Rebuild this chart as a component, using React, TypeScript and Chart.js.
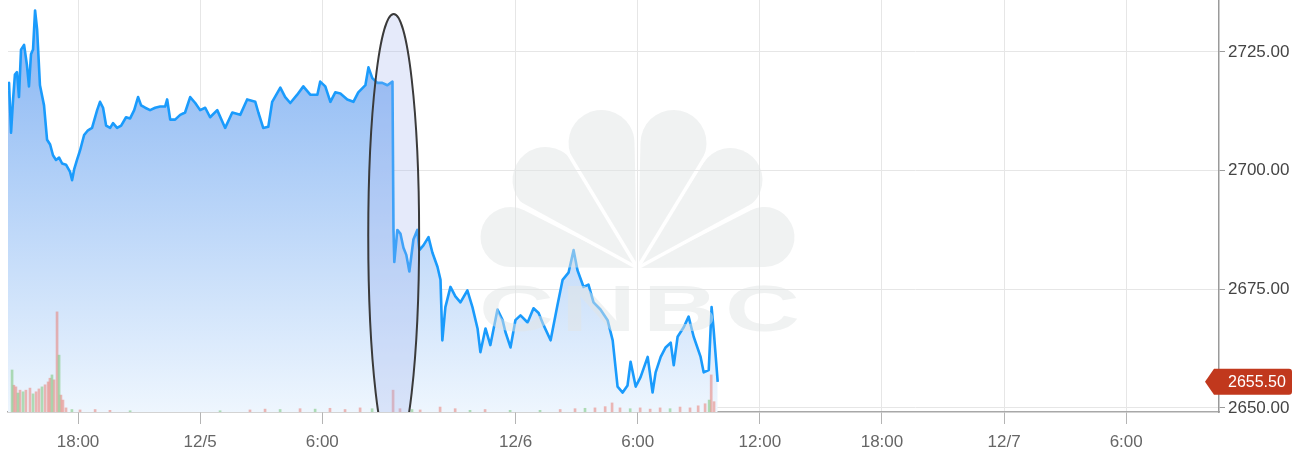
import React, { useEffect, useRef } from "react";
import { Chart, registerables } from "chart.js";

Chart.register(...registerables);

// E-mini S&P futures, trading-session hours (market closed 9:30–18:00 on 12/5)
const SESSION_HOURS = [
  0.0, 0.05, 0.15, 0.25, 0.34, 0.44, 0.54, 0.64, 0.79, 0.93, 1.03, 1.13, 1.23, 1.33, 1.43, 1.57,
  1.77, 1.92, 2.07, 2.21, 2.36, 2.51, 2.66, 2.85, 3.05, 3.15, 3.25, 3.39, 3.54, 3.74, 3.93, 4.13,
  4.38, 4.52, 4.67, 4.82, 5.02, 5.16, 5.36, 5.56, 5.8, 6.0, 6.2, 6.39, 6.54, 6.74, 6.98, 7.23,
  7.48, 7.72, 7.82, 7.97, 8.21, 8.46, 8.7, 8.95, 9.2, 9.44, 9.69, 9.93, 10.28, 10.67, 11.02, 11.41,
  11.75, 12.15, 12.3, 12.54, 12.79, 12.98, 13.38, 13.62, 13.87, 14.21, 14.51, 14.85, 15.2, 15.34,
  15.59, 15.84, 16.08, 16.33, 16.67, 16.97, 17.21, 17.56, 17.71, 17.9, 18.15, 18.39, 18.64, 18.89,
  18.94, 18.98, 19.13, 19.28, 19.43, 19.57, 19.72, 19.92, 20.11, 20.21, 20.41, 20.66, 20.85, 21.1,
  21.25, 21.34, 21.49, 21.74, 21.98, 22.23, 22.57, 22.82, 23.07, 23.21, 23.46, 23.7, 24.05, 24.3,
  24.44, 24.69, 24.93, 25.18, 25.53, 25.82, 26.07, 26.31, 26.66, 27.0, 27.25, 27.54, 27.79, 27.98,
  28.28, 28.52, 28.77, 29.11, 29.46, 29.71, 29.95, 30.2, 30.44, 30.59, 30.84, 31.08, 31.43, 31.67,
  31.82, 32.07, 32.31, 32.56, 32.71, 32.9, 33.2, 33.44, 33.69, 34.03, 34.18, 34.43, 34.57, 34.67,
  34.87,
];

const PRICES = [
  2717.0, 2718.5, 2708.0, 2715.0, 2720.25, 2720.75, 2715.5, 2725.5, 2726.5, 2722.25, 2717.75, 2724.5,
  2725.5, 2733.75, 2729.75, 2718.0, 2713.75, 2706.5, 2705.5, 2703.25, 2702.25, 2702.75, 2701.5,
  2701.25, 2699.75, 2698.0, 2700.25, 2702.25, 2704.25, 2707.5, 2708.5, 2709.0, 2712.75, 2714.5,
  2713.25, 2709.5, 2709.0, 2710.0, 2709.0, 2709.5, 2711.25, 2711.0, 2712.75, 2715.5, 2713.75,
  2713.25, 2712.75, 2713.25, 2713.5, 2713.5, 2715.0, 2710.75, 2710.75, 2711.75, 2712.25, 2715.5,
  2714.25, 2712.75, 2713.25, 2711.25, 2712.75, 2709.0, 2712.25, 2711.75, 2715.0, 2714.5, 2712.25,
  2709.0, 2709.25, 2714.5, 2717.5, 2715.5, 2714.25, 2716.0, 2717.75, 2716.0, 2716.0, 2718.75,
  2717.75, 2714.5, 2716.5, 2716.25, 2715.0, 2714.5, 2716.5, 2718.0, 2721.75, 2719.5, 2718.5, 2718.5,
  2718.0, 2718.75, 2687.5, 2680.75, 2687.5, 2686.75, 2683.75, 2682.25, 2678.75, 2685.5, 2687.5,
  2683.25, 2684.25, 2686.0, 2682.75, 2679.75, 2677.0, 2664.25, 2671.25, 2675.5, 2673.5, 2672.25,
  2674.75, 2671.25, 2666.75, 2661.75, 2666.75, 2663.25, 2670.75, 2668.5, 2666.0, 2662.75, 2668.5,
  2669.5, 2668.0, 2671.0, 2670.0, 2667.5, 2664.25, 2671.75, 2677.0, 2678.5, 2683.25, 2679.0, 2675.5,
  2676.0, 2672.25, 2670.75, 2668.5, 2664.25, 2654.5, 2653.25, 2654.75, 2659.75, 2654.5, 2656.5,
  2660.75, 2653.25, 2657.5, 2660.75, 2662.75, 2663.75, 2659.0, 2665.0, 2667.0, 2669.25, 2665.0,
  2660.75, 2657.5, 2658.0, 2671.25, 2666.5, 2655.5,
];

// Volume bars (thousand contracts); UP = closed higher than it opened
const VOLUME_HOURS = [
  0.2, 0.29, 0.39, 0.49, 0.59, 0.74, 0.88, 1.08, 1.23, 1.38, 1.52, 1.67, 1.82, 1.97, 2.06, 2.16,
  2.26, 2.41, 2.51, 2.6, 2.7, 2.85, 3.14, 3.54, 4.28, 5.01, 6.0, 10.42, 11.89, 12.63, 13.37, 14.35,
  15.09, 15.82, 16.56, 17.3, 17.89, 18.92, 19.26, 19.85, 20.25, 21.23, 21.97, 22.7, 23.44, 24.67,
  26.14, 27.13, 27.86, 28.35, 28.84, 29.34, 29.68, 30.07, 30.57, 31.06, 31.55, 32.04, 32.53, 33.02,
  33.51, 33.91, 34.25, 34.45, 34.55, 34.69,
];
const VOLUME_VALUES = [
  10.2, 6.5, 6.1, 4.6, 5.3, 4.9, 5.3, 5.8, 4.4, 4.9, 5.6, 6.1, 6.6, 7.3, 8.2, 9.0, 7.8, 24.3, 13.8,
  4.1, 2.9, 1.0, 0.6, 0.5, 0.6, 0.4, 0.3, 0.3, 0.5, 0.7, 0.6, 0.8, 0.7, 0.9, 0.6, 1.0, 0.8, 5.3,
  0.8, 0.6, 0.5, 1.2, 0.8, 0.4, 0.6, 0.4, 0.4, 0.6, 0.8, 0.9, 1.0, 1.3, 2.2, 1.0, 0.8, 1.0, 0.7,
  1.0, 0.8, 1.2, 1.0, 1.5, 2.0, 2.9, 9.0, 2.5,
];
const VOLUME_UP = [
  true, false, false, true, false, true, false, false, true, false, false, true, false, false, false,
  true, false, false, true, false, false, false, true, false, false, false, true, true, false, false,
  true, false, true, false, false, false, true, false, false, true, false, false, false, true, false,
  true, true, false, false, true, false, false, false, false, true, false, false, false, true, false,
  false, false, false, true, false, false,
];

const X_TICK_HOURS = [3.44, 9.44, 15.44, 24.94, 30.94, 36.94, 42.94, 48.94, 54.94];
const X_TICK_LABELS = ["18:00", "12/5", "6:00", "12/6", "6:00", "12:00", "18:00", "12/7", "6:00"];
const Y_TICKS = [2650, 2675, 2700, 2725];

const X_MAX_HOURS = 59.5;
const Y_MIN = 2649.15;
const Y_MAX = 2735.95;

// Highlight around the reopening gap
const HIGHLIGHT = { fromHour: 17.7, toHour: 20.2, topPrice: 2733.0, bottomPrice: 2639.5 };

// Peacock feathers: offset of each round end from the pivot, and its radius
const FEATHERS: [number, number, number][] = [
  [-127, -31, 30],
  [-92, -88, 33],
  [-36, -125, 33],
  [36, -125, 33],
  [93, -88, 32],
  [127, -31, 30],
];

const FONT = "'Liberation Sans', Arial, sans-serif";

function featherPath(c: CanvasRenderingContext2D, px: number, py: number, cx: number, cy: number, r: number) {
  const d = Math.hypot(px - cx, py - cy);
  const beta = Math.atan2(py - cy, px - cx);
  const phi = Math.acos(r / d);
  c.beginPath();
  c.moveTo(px, py);
  c.lineTo(cx + r * Math.cos(beta + phi), cy + r * Math.sin(beta + phi));
  c.arc(cx, cy, r, beta + phi, beta - phi + Math.PI * 2, false);
  c.closePath();
  c.fill();
}

const watermarkPlugin = {
  id: "watermark",
  afterDatasetsDraw(chart: any) {
    const { ctx, width, height } = chart;
    const off = document.createElement("canvas");
    off.width = width;
    off.height = height;
    const o = off.getContext("2d")!;
    const px = width / 2 - 13;
    const py = 268;
    o.fillStyle = "#e2e5e5";
    FEATHERS.forEach(([dx, dy, r]) => featherPath(o, px, py, px + dx, py + dy, r));
    // thin white gaps between the feathers
    o.globalCompositeOperation = "destination-out";
    o.lineWidth = 3.5;
    for (let i = 0; i < FEATHERS.length - 1; i++) {
      const a1 = Math.atan2(FEATHERS[i][1], FEATHERS[i][0]);
      const a2 = Math.atan2(FEATHERS[i + 1][1], FEATHERS[i + 1][0]);
      const a = (a1 + a2) / 2;
      o.beginPath();
      o.moveTo(px, py);
      o.lineTo(px + 200 * Math.cos(a), py + 200 * Math.sin(a));
      o.stroke();
    }
    o.globalCompositeOperation = "source-over";
    o.font = `bold 64px ${FONT}`;
    o.textAlign = "center";
    o.textBaseline = "alphabetic";
    const letters = ["C", "N", "B", "C"];
    letters.forEach((ch, i) => {
      o.save();
      o.translate(px - 121 + i * 82, 331);
      o.scale(1.62, 1);
      o.fillText(ch, 0, 0);
      o.restore();
    });
    ctx.save();
    ctx.globalAlpha = 0.5;
    ctx.drawImage(off, 0, 0);
    ctx.restore();
  },
};

const highlightPlugin = {
  id: "highlight",
  afterDatasetsDraw(chart: any) {
    const { ctx, chartArea, scales } = chart;
    const x1 = scales.x.getPixelForValue(HIGHLIGHT.fromHour);
    const x2 = scales.x.getPixelForValue(HIGHLIGHT.toHour);
    const y1 = scales.y.getPixelForValue(HIGHLIGHT.topPrice);
    const y2 = scales.y.getPixelForValue(HIGHLIGHT.bottomPrice);
    ctx.save();
    ctx.beginPath();
    ctx.rect(chartArea.left, chartArea.top, chartArea.right - chartArea.left, chartArea.bottom - chartArea.top);
    ctx.clip();
    ctx.beginPath();
    ctx.ellipse((x1 + x2) / 2, (y1 + y2) / 2, (x2 - x1) / 2, (y2 - y1) / 2, 0, 0, Math.PI * 2);
    ctx.fillStyle = "rgba(160,180,236,0.28)";
    ctx.fill();
    ctx.lineWidth = 2;
    ctx.strokeStyle = "#3a3a3a";
    ctx.stroke();
    ctx.restore();
  },
};

const lastPricePlugin = {
  id: "lastPrice",
  afterDraw(chart: any) {
    const { ctx, chartArea, scales, width } = chart;
    const last = PRICES[PRICES.length - 1];
    const y = scales.y.getPixelForValue(last);
    const tip = chartArea.right - 14;
    const left = chartArea.right - 5;
    const right = width - 9;
    const h = 13;
    const r = 3;
    ctx.save();
    ctx.beginPath();
    ctx.moveTo(tip, y);
    ctx.lineTo(left, y - h);
    ctx.lineTo(right - r, y - h);
    ctx.arcTo(right, y - h, right, y - h + r, r);
    ctx.lineTo(right, y + h - r);
    ctx.arcTo(right, y + h, right - r, y + h, r);
    ctx.lineTo(left, y + h);
    ctx.closePath();
    ctx.fillStyle = "#c1381d";
    ctx.fill();
    ctx.fillStyle = "#ffffff";
    ctx.font = `16px ${FONT}`;
    ctx.textAlign = "left";
    ctx.textBaseline = "middle";
    ctx.fillText(last.toFixed(2), chartArea.right + 9, y + 1);
    ctx.restore();
  },
};

export default function App() {
  const canvasRef = useRef<HTMLCanvasElement>(null);

  useEffect(() => {
    document.body.style.margin = "0";
    const canvas = canvasRef.current;
    if (!canvas) return;

    const priceData = SESSION_HOURS.map((h, i) => ({ x: h, y: PRICES[i] }));
    const upData: { x: number; y: number }[] = [];
    const downData: { x: number; y: number }[] = [];
    VOLUME_HOURS.forEach((h, i) => {
      (VOLUME_UP[i] ? upData : downData).push({ x: h, y: VOLUME_VALUES[i] });
    });

    const chart = new Chart(canvas, {
      type: "line",
      data: {
        datasets: [
          {
            type: "line",
            data: priceData,
            yAxisID: "y",
            borderColor: "#1a9bfc",
            borderWidth: 2.6,
            borderJoinStyle: "round",
            pointRadius: 0,
            tension: 0,
            fill: "start",
            order: 0,
            backgroundColor: (c: any) => {
              const area = c.chart.chartArea;
              if (!area) return "rgba(160,198,246,1)";
              const g = c.chart.ctx.createLinearGradient(0, area.top + 60, 0, area.bottom);
              g.addColorStop(0, "rgb(146,188,244)");
              g.addColorStop(1, "rgb(238,246,254)");
              return g;
            },
          },
          {
            type: "bar",
            data: upData,
            yAxisID: "yVol",
            backgroundColor: "rgba(120,196,120,0.55)",
            barThickness: 2,
            grouped: false,
            order: 1,
          },
          {
            type: "bar",
            data: downData,
            yAxisID: "yVol",
            backgroundColor: "rgba(232,128,118,0.55)",
            barThickness: 2,
            grouped: false,
            order: 1,
          },
        ],
      },
      options: {
        animation: false,
        responsive: false,
        layout: { padding: { left: 8, top: 0, right: 0, bottom: 0 } },
        plugins: {
          legend: { display: false },
          tooltip: { enabled: false },
          filler: { drawTime: "beforeDatasetsDraw" },
        },
        scales: {
          x: {
            type: "linear",
            offset: false,
            min: 0,
            max: X_MAX_HOURS,
            afterBuildTicks: (scale: any) => {
              scale.ticks = X_TICK_HOURS.map((v) => ({ value: v }));
            },
            afterFit: (scale: any) => {
              scale.height = 54;
              scale.paddingLeft = 0;
              scale.paddingRight = 0;
            },
            grid: { offset: false, color: "#e6e6e6", tickColor: "#b4b4b4", tickLength: 12, lineWidth: 1 },
            border: { color: "#a8a8a8", width: 1.5 },
            ticks: {
              autoSkip: false,
              maxRotation: 0,
              padding: 8,
              color: "#666666",
              font: { family: FONT, size: 17 },
              callback: (_v: any, i: number) => X_TICK_LABELS[i],
            },
          },
          y: {
            type: "linear",
            position: "right",
            min: Y_MIN,
            max: Y_MAX,
            afterBuildTicks: (scale: any) => {
              scale.ticks = Y_TICKS.map((v) => ({ value: v }));
            },
            afterFit: (scale: any) => {
              scale.width = 82;
              scale.paddingTop = 0;
              scale.paddingBottom = 0;
            },
            grid: { color: "#e6e6e6", tickColor: "#9a9a9a", tickLength: 6, lineWidth: 1 },
            border: { color: "#9a9a9a", width: 1.5 },
            ticks: {
              padding: 3,
              color: "#444444",
              font: { family: FONT, size: 17 },
              callback: (v: any) => Number(v).toFixed(2),
            },
          },
          yVol: {
            type: "linear",
            display: false,
            min: 0,
            max: 100,
          },
        },
      },
      plugins: [watermarkPlugin, highlightPlugin, lastPricePlugin],
    } as any);

    return () => chart.destroy();
  }, []);

  return (
    <div style={{ width: 1301, height: 466, background: "#ffffff" }}>
      <canvas ref={canvasRef} width={1301} height={466} style={{ display: "block" }} />
    </div>
  );
}
